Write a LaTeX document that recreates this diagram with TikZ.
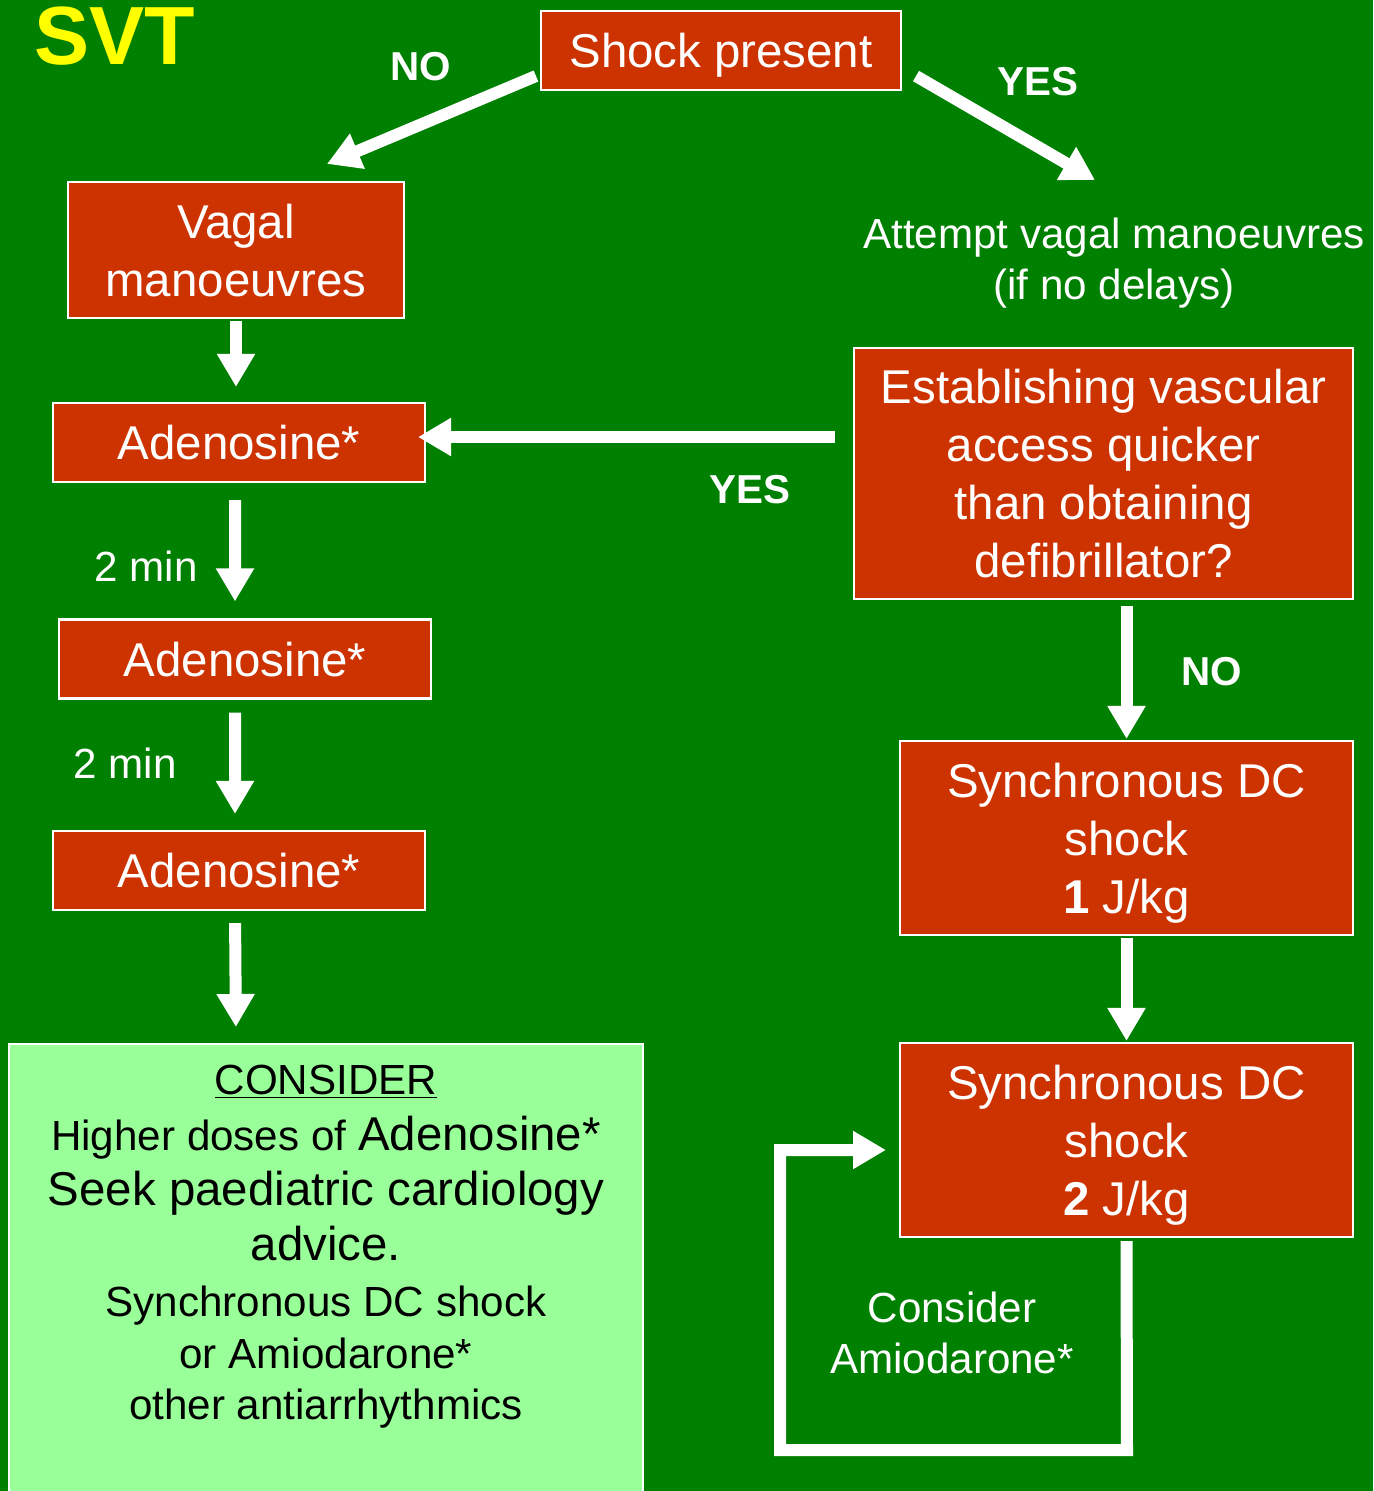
\documentclass[tikz,border=0pt]{standalone}
\usepackage{fontspec}
\setmainfont{Liberation Sans}
\usetikzlibrary{arrows.meta, positioning}
\definecolor{bggreen}{RGB}{0,128,0}
\definecolor{boxred}{RGB}{204,51,0}
\definecolor{palegreen}{RGB}{153,255,153}
\definecolor{svtyellow}{RGB}{255,255,0}

\begin{document}
\begin{tikzpicture}[
    x=0.02cm, y=-0.02cm,
    redbox/.style={rectangle, draw=white, line width=1.2pt, fill=boxred, text=white,
                   align=center, inner sep=0pt, text depth=0pt, font=\fontsize{27}{33}\selectfont},
    considerbox/.style={rectangle, draw=white, line width=1.2pt, fill=palegreen, anchor=north west},
    note/.style={text=white, align=center, inner sep=0pt, font=\fontsize{24}{29}\selectfont},
    answer/.style={text=white, inner sep=0pt, font=\bfseries\fontsize{23}{28}\selectfont},
    arrow/.style={draw=white, line width=0.24cm, line join=miter, -{Triangle[width=0.72cm, length=0.66cm]}}
]
% background and page size
\fill[bggreen] (0,0) rectangle (1373,1491);
\useasboundingbox (0,0) rectangle (1373,1491);

\node (svt) [text=svtyellow, inner sep=0pt, font=\bfseries\fontsize{47}{50}\selectfont] at (115,36) {SVT};

% left column
\node (shock)  [redbox, minimum width=7.2cm, minimum height=1.58cm] at (721,50.5) {Shock present};
\node (vagal)  [redbox, minimum width=6.72cm, minimum height=2.72cm] at (236,250) {Vagal\\manoeuvres};
\node (adeno1) [redbox, minimum width=7.44cm, minimum height=1.58cm] at (239,442.5) {Adenosine*};
\node (adeno2) [redbox, minimum width=7.44cm, minimum height=1.58cm] at (245,659) {Adenosine*};
\node (adeno3) [redbox, minimum width=7.44cm, minimum height=1.58cm] at (239,870.5) {Adenosine*};
\node (consider) [considerbox, minimum width=12.68cm, minimum height=9.3cm] at (8,1043) {};
\node (considertext) [below=0.44cm of consider.north, inner sep=0pt, align=center,
                      font=\fontsize{24}{31.5}\selectfont] {%
    \underline{CONSIDER}\\
    Higher doses of {\fontsize{27}{31.5}\selectfont Adenosine*}\\
    {\fontsize{27}{31.5}\selectfont Seek paediatric cardiology}\\
    {\fontsize{27}{31.5}\selectfont advice.}\\
    Synchronous DC shock\\[-2pt]
    or Amiodarone*\\[-2pt]
    other antiarrhythmics};

% right column
\node (attempt) [note, anchor=north] at (1114,218) {Attempt vagal manoeuvres\\(if no delays)};
\node (access)  [redbox, minimum width=9.98cm, minimum height=5.02cm] at (1103.5,473.5)
    {Establishing vascular\\access quicker\\than obtaining\\defibrillator?};
\node (synch1)  [redbox, minimum width=9.06cm, minimum height=3.88cm] at (1126.5,838)
    {Synchronous DC\\shock\\\textbf{1} J/kg};
\node (synch2)  [redbox, minimum width=9.06cm, minimum height=3.88cm] at (1126.5,1140)
    {Synchronous DC\\shock\\\textbf{2} J/kg};
\node (amio) [note] at (952,1333) {Consider\\Amiodarone*};

% answers
\node (notop)    [answer] at (421,67)  {NO};
\node (yestop)   [answer] at (1038,82) {YES};
\node (yesmid)   [answer] at (750,490) {YES};
\node (noright)  [answer] at (1212,672) {NO};
\node (wait1) [note] at (146,566) {2 min};
\node (wait2) [note] at (125,763) {2 min};

\coordinate (loopbottom) at (1127,1450);
\coordinate (loopleft)   at (780,1150);

% connectors
\draw [arrow] ([shift={(-4,-15)}]shock.south west) -- ([shift={(91,-17)}]vagal.north);
\draw [arrow] ([shift={(14,-15)}]shock.south east) -- ([shift={(-19,-38)}]attempt.north);
\draw [arrow, shorten <=0.04cm, shorten >=0.3cm] (vagal.south) -- (vagal.south |- adeno1.north);
\draw [arrow, shorten <=0.34cm, shorten >=0.34cm] ([xshift=-0.08cm]adeno1.south) -- ([xshift=-0.2cm]adeno2.north);
\draw [arrow, shorten <=0.26cm, shorten >=0.32cm] ([xshift=-0.2cm]adeno2.south) -- ([xshift=-0.08cm]adeno3.north);
\draw [arrow, shorten <=0.24cm, shorten >=0.32cm] ([xshift=-0.08cm]adeno3.south) -- ([xshift=-1.8cm]consider.north);
\draw [arrow, shorten <=0.36cm, shorten >=-0.16cm] ([yshift=0.11cm]access.west |- adeno1.east) -- ([yshift=0.11cm]adeno1.east);
\draw [arrow, shorten <=0.12cm, shorten >=0.02cm] (synch1.north |- access.south) -- (synch1.north);
\draw [arrow, shorten <=0.04cm, shorten >=0.02cm] (synch1.south) -- (synch2.north);
\draw [arrow, shorten <=0.06cm, shorten >=0.26cm] (synch2.south) -- (loopbottom) -| (loopleft) -- (synch2.west |- loopleft);
\end{tikzpicture}
\end{document}
